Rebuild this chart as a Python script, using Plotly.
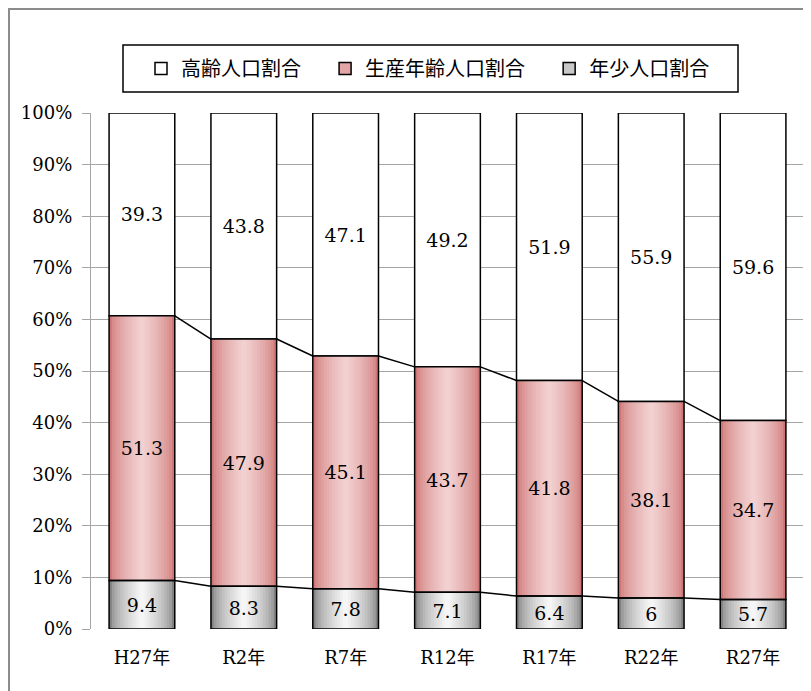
import plotly.graph_objects as go
import numpy as np

categories = ["H27年", "R2年", "R7年", "R12年", "R17年", "R22年", "R27年"]
young = [9.4, 8.3, 7.8, 7.1, 6.4, 6, 5.7]
working = [51.3, 47.9, 45.1, 43.7, 41.8, 38.1, 34.7]
elderly = [39.3, 43.8, 47.1, 49.2, 51.9, 55.9, 59.6]
series_names = ["高齢人口割合", "生産年齢人口割合", "年少人口割合"]
y_ticks = [0, 10, 20, 30, 40, 50, 60, 70, 80, 90, 100]

FONT = '"DejaVu Serif", "Liberation Serif", serif, "Noto Sans CJK JP"'
BAR_W = 0.645

# page has an 8px body margin: figure starts at screen (8, 8)
OFF = 8
PL, PR, PT, PB = 91, 804, 113, 629  # plot area in screen pixels
PW, PH = PR - PL, PB - PT


def px(X):
    return (X - PL) / PW


def py(Y):
    return (PB - Y) / PH


x = np.arange(len(categories))
yo = np.array(young, float)
wo = np.array(working, float)
el = np.array(elderly, float)
tot = yo + wo + el
yo_n = yo / tot * 100
wo_n = wo / tot * 100
el_n = el / tot * 100
base_yo = np.zeros_like(yo_n)
base_wo = yo_n
base_el = yo_n + wo_n

fig = go.Figure()


def lerp(c1, c2, t):
    return "rgb(%d,%d,%d)" % tuple(round(a + (b - a) * t) for a, b in zip(c1, c2))


def gradient(yvals, bases, edge, center, n=12):
    for k in range(n):
        t = (k / (n - 1)) ** 0.6
        fig.add_trace(go.Bar(
            x=x, y=yvals, base=bases, width=BAR_W * (1 - k / n),
            marker=dict(color=lerp(edge, center, t), line=dict(width=0)),
            showlegend=False, hoverinfo="skip"))


# elderly (white)
fig.add_trace(go.Bar(
    x=x, y=el_n, base=base_el, width=BAR_W,
    marker=dict(color="white", line=dict(color="black", width=1.5)),
    text=[f"{v:g}" for v in elderly], textposition="inside",
    insidetextanchor="middle", constraintext="none",
    textfont=dict(family=FONT, size=19, color="black"),
    showlegend=False, hoverinfo="skip"))

gradient(wo_n, base_wo, (206, 118, 118), (242, 208, 208))
gradient(yo_n, base_yo, (130, 130, 130), (245, 245, 245))

for vals, bases, raw in [(wo_n, base_wo, working), (yo_n, base_yo, young)]:
    fig.add_trace(go.Bar(
        x=x, y=vals, base=bases, width=BAR_W,
        marker=dict(color="rgba(0,0,0,0)", line=dict(color="black", width=1.5)),
        text=[f"{v:g}" for v in raw], textposition="inside",
        insidetextanchor="middle", constraintext="none",
        textfont=dict(family=FONT, size=19, color="black"),
        showlegend=False, hoverinfo="skip"))

# connector lines between bars
for level in [base_wo, base_el]:
    lx, ly = [], []
    for i in range(len(categories) - 1):
        lx += [x[i] + BAR_W / 2, x[i + 1] - BAR_W / 2, None]
        ly += [level[i], level[i + 1], None]
    fig.add_trace(go.Scatter(x=lx, y=ly, mode="lines",
                             line=dict(color="black", width=1.5),
                             showlegend=False, hoverinfo="skip"))

# legend entries (trailing no-break spaces widen the gaps between entries)
pads = ["\u00a0\u00a0\u00a0", "\u00a0\u00a0\u00a0", ""]
for name, pad, col in zip(series_names, pads, ["white", "#e3a5a5", "#c8c8c8"]):
    fig.add_trace(go.Bar(x=[None], y=[None], name=name + pad,
                         marker=dict(color=col, line=dict(color="black", width=1.5))))

fig.update_layout(
    width=811, height=691,
    barmode="overlay",
    paper_bgcolor="white", plot_bgcolor="white",
    margin=dict(l=PL - OFF, r=811 + OFF - PR, t=PT - OFF, b=691 + OFF - PB),
    font=dict(family=FONT, size=19, color="black"),
    legend=dict(orientation="h", x=px(428), y=py(68.5), xanchor="center", yanchor="middle",
                traceorder="normal", font=dict(family=FONT, size=20), bgcolor="rgba(0,0,0,0)",
                itemwidth=30),
    xaxis=dict(range=[-0.5, len(categories) - 0.5], tickvals=list(x), ticktext=categories,
               showgrid=False, zeroline=False, showline=False, ticks="",
               ticklabelstandoff=16, tickfont=dict(family=FONT, size=18)),
    yaxis=dict(range=[0, 100], tickvals=y_ticks, ticktext=[f"{v}%" for v in y_ticks],
               showgrid=True, gridcolor="#a6a6a6", gridwidth=1.3,
               zeroline=False, showline=True, linecolor="#a6a6a6", linewidth=1.3,
               ticks="outside", ticklen=8, tickcolor="#a6a6a6", tickwidth=1.3,
               ticklabelstandoff=6, tickfont=dict(family=FONT, size=18)),
    shapes=[
        dict(type="rect", xref="paper", yref="paper",
             x0=px(9), x1=px(840), y0=py(720), y1=py(9),
             fillcolor="rgba(0,0,0,0)", line=dict(color="#8c8c8c", width=2)),
        dict(type="rect", xref="paper", yref="paper",
             x0=px(123), x1=px(738), y0=py(92), y1=py(45),
             fillcolor="rgba(0,0,0,0)", line=dict(color="black", width=1.5)),
    ],
)

fig.write_html("out.html")
